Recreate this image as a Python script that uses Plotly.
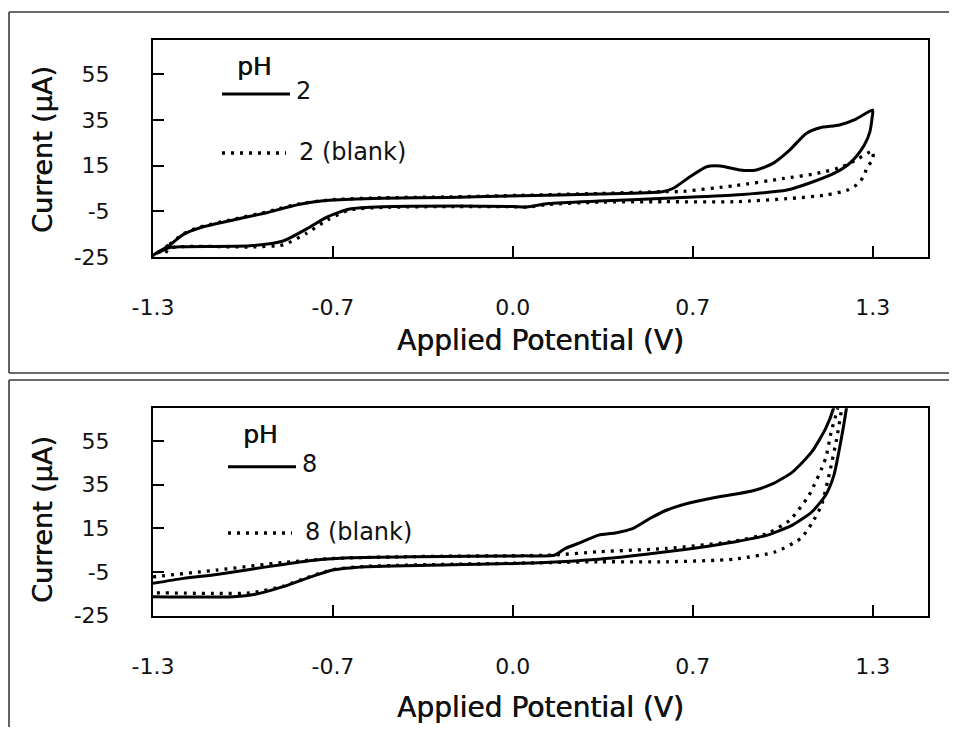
import plotly.graph_objects as go

# ---------------- data ----------------
# pH 2, sample: upper (anodic) branch, left to right
v_ph2_up = [-1.30, -1.24, -1.19, -1.13, -1.01, -0.89, -0.77, -0.65, -0.47, -0.23, 0.03, 0.31,
            0.54, 0.58, 0.64, 0.70, 0.75, 0.82, 0.88, 0.94, 1.00, 1.06, 1.11, 1.18, 1.24, 1.30]
i_ph2_up = [-24.2, -19.8, -15.1, -12.2, -8.8, -5.6, -1.9, -0.1, 0.7, 1.1, 1.8, 2.6,
            3.6, 5.1, 10.1, 14.5, 14.8, 13.1, 13.1, 16.0, 21.8, 29.1, 31.6, 32.8, 35.4, 39.3]
# pH 2, sample: lower (return) branch, left to right
v_ph2_dn = [-1.30, -1.24, -1.19, -0.95, -0.83, -0.745, -0.67, -0.59, -0.47, -0.20, 0.00, 0.05,
            0.13, 0.31, 0.55, 0.80, 0.99, 1.07, 1.16, 1.21, 1.24, 1.27, 1.29, 1.298]
i_ph2_dn = [-24.2, -20.9, -20.5, -20.1, -18.0, -12.7, -7.4, -4.0, -3.0, -2.7, -2.9, -3.1,
            -1.6, -0.5, 0.7, 2.1, 4.3, 7.3, 11.6, 15.3, 18.9, 24.0, 29.8, 36.0]

# pH 2, blank
v_ph2b_up = [-1.30, -1.24, -1.19, -1.13, -1.01, -0.89, -0.77, -0.65, -0.47, -0.23, 0.03, 0.31,
             0.54, 0.60, 0.80, 0.98, 1.10, 1.19, 1.25, 1.30]
i_ph2b_up = [-25.5, -19.4, -14.8, -11.9, -8.5, -5.3, -1.7, 0.1, 0.9, 1.3, 2.0, 2.8,
             3.6, 3.6, 6.2, 9.4, 11.6, 14.5, 18.2, 21.4]
v_ph2b_dn = [-1.30, -1.27, -1.24, -0.95, -0.83, -0.745, -0.67, -0.59, -0.47, -0.20, 0.00, 0.05,
             0.13, 0.31, 0.55, 0.80, 1.01, 1.13, 1.21, 1.25, 1.27, 1.28, 1.30]
i_ph2b_dn = [-25.5, -25.8, -21.2, -20.6, -19.7, -14.6, -8.8, -4.4, -3.3, -2.9, -3.0, -3.2,
             -2.0, -1.0, -0.8, -0.8, 0.7, 2.1, 4.3, 7.3, 10.9, 14.5, 17.4]

# pH 8, sample
v_ph8_up = [-1.30, -1.19, -1.07, -0.95, -0.83, -0.71, -0.59, -0.35, 0.03, 0.15, 0.19, 0.25,
            0.31, 0.37, 0.435, 0.495, 0.555, 0.63, 0.74, 0.86, 0.94, 1.01, 1.08, 1.13, 1.158, 1.172]
i_ph8_up = [-10.2, -7.9, -6.1, -3.8, -1.5, 0.5, 1.5, 2.0, 2.4, 2.7, 5.8, 8.8,
            11.9, 12.9, 15.0, 19.5, 23.3, 26.4, 29.4, 32.0, 35.5, 40.8, 50.0, 60.7, 69.8, 80.0]
v_ph8_dn = [-1.30, -1.01, -0.93, -0.83, -0.745, -0.65, -0.53, 0.03, 0.31, 0.555, 0.80, 0.92,
            1.01, 1.08, 1.13, 1.16, 1.18, 1.205, 1.215]
i_ph8_dn = [-16.3, -16.3, -15.2, -11.7, -7.9, -4.1, -2.6, -1.0, 0.9, 4.3, 8.8, 11.9,
            16.5, 22.5, 30.2, 39.3, 51.5, 69.8, 80.0]

# pH 8, blank
v_ph8b_up = [-1.30, -1.07, -0.83, -0.65, -0.35, 0.03, 0.15, 0.31, 0.555, 0.80, 0.92, 1.00,
             1.07, 1.13, 1.15, 1.173, 1.183]
i_ph8b_up = [-7.2, -4.1, -0.6, 1.2, 2.1, 2.5, 2.8, 4.3, 5.8, 9.1, 12.7, 18.7,
             30.2, 47.0, 59.1, 69.8, 80.0]
v_ph8b_dn = [-1.30, -1.07, -0.95, -0.83, -0.745, -0.65, -0.53, 0.03, 0.31, 0.555, 0.80, 0.95,
             1.04, 1.08, 1.115, 1.145, 1.17, 1.188, 1.198]
i_ph8b_dn = [-14.5, -14.8, -14.6, -11.5, -7.6, -3.9, -2.4, -0.9, -0.3, -0.3, 0.9, 4.3,
             10.4, 17.2, 25.6, 40.8, 56.1, 69.8, 80.0]

# axes
x_tickvals = [-1.3, -0.65, 0.0, 0.65, 1.3]
x_ticktext = ["-1.3", "-0.7", "0.0", "0.7", "1.3"]
y_tickvals = [-25, -5, 15, 35, 55]
y_ticktext = ["-25", "-5", "15", "35", "55"]
x_range = [-1.3, 1.5]
y_range = [-25, 70]

legend_top = ["2", "2 (blank)"]
legend_bot = ["8", "8 (blank)"]
x_title = "Applied Potential (V)"
y_title = "Current (μA)"
legend_title = "pH"

# ---------------- figure ----------------
# the page body has an 8px margin on every side, so screen position (X, Y)
# is figure position (X-8, Y-8); the figure is sized so the page does not overflow
OFF = 8
W, H = 957 - 2 * OFF, 735 - 2 * OFF
FONT = "DejaVu Sans"


def px(x):
    return (x - OFF) / W


def py(y):
    return 1 - (y - OFF) / H


def loop(v_up, i_up, v_dn, i_dn):
    return v_up + v_dn[::-1], i_up + i_dn[::-1]


fig = go.Figure()

panels = [
    ("x", "y", (v_ph2_up, i_ph2_up, v_ph2_dn, i_ph2_dn), (v_ph2b_up, i_ph2b_up, v_ph2b_dn, i_ph2b_dn)),
    ("x2", "y2", (v_ph8_up, i_ph8_up, v_ph8_dn, i_ph8_dn), (v_ph8b_up, i_ph8b_up, v_ph8b_dn, i_ph8b_dn)),
]
for xa, ya, sample, blank in panels:
    bx, by = loop(*blank)
    fig.add_trace(go.Scatter(x=bx, y=by, xaxis=xa, yaxis=ya, mode="lines",
                             line=dict(color="black", width=3.3, dash="3px,6px", shape="spline", smoothing=0.6),
                             showlegend=False, hoverinfo="skip"))
    sx, sy = loop(*sample)
    fig.add_trace(go.Scatter(x=sx, y=sy, xaxis=xa, yaxis=ya, mode="lines",
                             line=dict(color="black", width=3, shape="spline", smoothing=0.6),
                             showlegend=False, hoverinfo="skip"))

xdom = [px(153), px(928)]
axis_common = dict(showline=True, mirror=True, linecolor="black", linewidth=2,
                   ticks="inside", ticklen=11, tickwidth=1.5, tickcolor="black",
                   showgrid=False, zeroline=False, automargin=False,
                   tickfont=dict(family=FONT, size=22, color="#111"))
fig.update_layout(
    xaxis=dict(domain=xdom, range=x_range, tickvals=x_tickvals, ticktext=x_ticktext,
               anchor="y", ticklabelstandoff=30, **axis_common),
    yaxis=dict(domain=[py(257), py(40)], range=y_range, tickvals=y_tickvals, ticktext=y_ticktext,
               anchor="x", ticklabelstandoff=37, **axis_common),
    xaxis2=dict(domain=xdom, range=x_range, tickvals=x_tickvals, ticktext=x_ticktext,
                anchor="y2", ticklabelstandoff=30, **axis_common),
    yaxis2=dict(domain=[py(615.7), py(408.3)], range=y_range, tickvals=y_tickvals, ticktext=y_ticktext,
                anchor="x2", ticklabelstandoff=37, **axis_common),
    width=W, height=H, autosize=False,
    margin=dict(l=0, r=0, t=0, b=0, pad=0, autoexpand=False),
    paper_bgcolor="white", plot_bgcolor="white",
    showlegend=False,
)

shapes = []
annotations = []
# outer frames (open on the right / bottom, as cropped in the original)
frame = dict(color="#3a3a3a", width=1.6)
RIGHT = OFF + W
BOTTOM = OFF + H
for x0, y0, x1, y1 in [(9, 12, RIGHT, 12), (9, 12, 9, 373), (9, 373, RIGHT, 373),
                       (9, 380, RIGHT, 380), (9, 380, 9, BOTTOM)]:
    shapes.append(dict(type="line", xref="paper", yref="paper", x0=px(x0), x1=px(x1),
                       y0=py(y0), y1=py(y1), line=frame))

title_font = dict(family=FONT, size=27, color="#111", shadow="0.6px 0 0 #111")
xtitle_font = dict(family=FONT, size=28, color="#111", shadow="0.6px 0 0 #111")
legend_font = dict(family=FONT, size=24, color="#111")
ph_font = dict(family=FONT, size=25, color="#111", shadow="0.5px 0 0 #111")
for (ycenter_title, xt_y, leg, ph_y, solid_y, dot_y, lx0) in [
        (150, 340, legend_top, 66, 94, 153, 222),
        (520, 707, legend_bot, 435, 466.7, 533, 228)]:
    annotations.append(dict(text=y_title, x=px(42), y=py(ycenter_title), xref="paper", yref="paper",
                            textangle=-90, showarrow=False, xanchor="center", yanchor="middle", font=title_font))
    annotations.append(dict(text=x_title, x=px(540), y=py(xt_y), xref="paper", yref="paper",
                            showarrow=False, xanchor="center", yanchor="middle", font=xtitle_font))
    annotations.append(dict(text=legend_title, x=px(lx0 + 33), y=py(ph_y), xref="paper", yref="paper",
                            showarrow=False, xanchor="center", yanchor="middle", font=ph_font))
    shapes.append(dict(type="line", xref="paper", yref="paper", x0=px(lx0), x1=px(lx0 + 68),
                       y0=py(solid_y), y1=py(solid_y), line=dict(color="black", width=3)))
    shapes.append(dict(type="line", xref="paper", yref="paper", x0=px(lx0), x1=px(lx0 + 64),
                       y0=py(dot_y), y1=py(dot_y), line=dict(color="black", width=3.3, dash="3px,6px")))
    annotations.append(dict(text=leg[0], x=px(lx0 + 72), y=py(solid_y - 3), xref="paper", yref="paper",
                            showarrow=False, xanchor="left", yanchor="middle", font=legend_font))
    annotations.append(dict(text=leg[1], x=px(lx0 + 75), y=py(dot_y - 1), xref="paper", yref="paper",
                            showarrow=False, xanchor="left", yanchor="middle", font=legend_font))

fig.update_layout(shapes=shapes, annotations=annotations)
fig.write_html("out.html")
